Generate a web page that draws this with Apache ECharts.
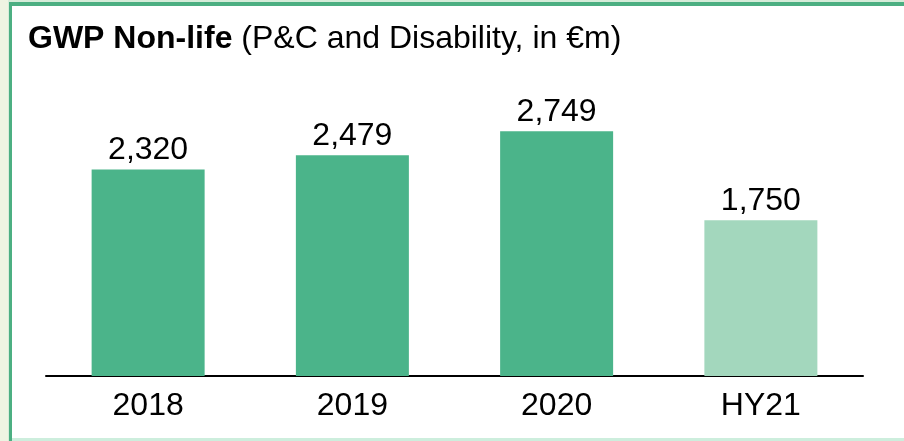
<!DOCTYPE html>
<html>
<head>
<meta charset="utf-8">
<script src="https://cdn.jsdelivr.net/npm/echarts@6/dist/echarts.min.js"></script>
<style>
  html, body { margin: 0; padding: 0; background: #eef4e2; }
  #chart { width: 904px; height: 441px; }
</style>
</head>
<body>
<div id="chart"></div>
<script>
// Gross written premiums, non-life business (€m)
const categories = ['2018', '2019', '2020', 'HY21'];
const gwpValues = [2320, 2479, 2749, 1750];
const barColors = ['#4bb48a', '#4bb48a', '#4bb48a', '#a3d7bd'];

const FONT = 'Liberation Sans, Arial, sans-serif';
const chart = echarts.init(document.getElementById('chart'), null, { renderer: 'canvas' });

chart.setOption({
  animation: false,
  backgroundColor: 'transparent',
  graphic: [
    // panel frame
    { type: 'rect', z: -10, shape: { x: 8, y: 0, width: 896, height: 441 }, style: { fill: '#d6ecd9' } },
    { type: 'rect', z: -9, shape: { x: 9, y: 2, width: 895, height: 4 }, style: { fill: '#4caf82' } },
    { type: 'rect', z: -9, shape: { x: 9, y: 2, width: 3, height: 439 }, style: { fill: '#4caf82' } },
    { type: 'rect', z: -8, shape: { x: 12, y: 6, width: 892, height: 432 }, style: { fill: '#ffffff' } },
    { type: 'rect', z: -8, shape: { x: 12, y: 438, width: 892, height: 3 }, style: { fill: '#cdeedd' } }
  ],
  title: {
    left: 23,
    top: 18,
    text: '{b|GWP Non-life}{n| (P&C and Disability, in €m)}',
    textStyle: {
      fontWeight: 'normal',
      rich: {
        b: { fontFamily: FONT, fontSize: 32, fontWeight: 'bold', color: '#000' },
        n: { fontFamily: FONT, fontSize: 32, fontWeight: 'normal', color: '#000' }
      }
    }
  },
  grid: { left: 46, right: 41, top: 109, bottom: 65, containLabel: false },
  xAxis: {
    type: 'category',
    data: categories,
    axisLine: { lineStyle: { color: '#000', width: 2 } },
    axisTick: { show: false },
    axisLabel: { fontFamily: FONT, fontSize: 32, color: '#000', margin: 14 }
  },
  yAxis: {
    type: 'value',
    min: 0,
    max: 3000,
    show: false,
    splitLine: { show: false }
  },
  series: [{
    type: 'bar',
    barWidth: 113,
    data: gwpValues.map((v, i) => ({ value: v, itemStyle: { color: barColors[i] } })),
    label: {
      show: true,
      position: 'top',
      distance: 3,
      fontFamily: FONT,
      fontSize: 32,
      color: '#000',
      formatter: p => p.value.toLocaleString('en-US')
    }
  }]
});
</script>
</body>
</html>
